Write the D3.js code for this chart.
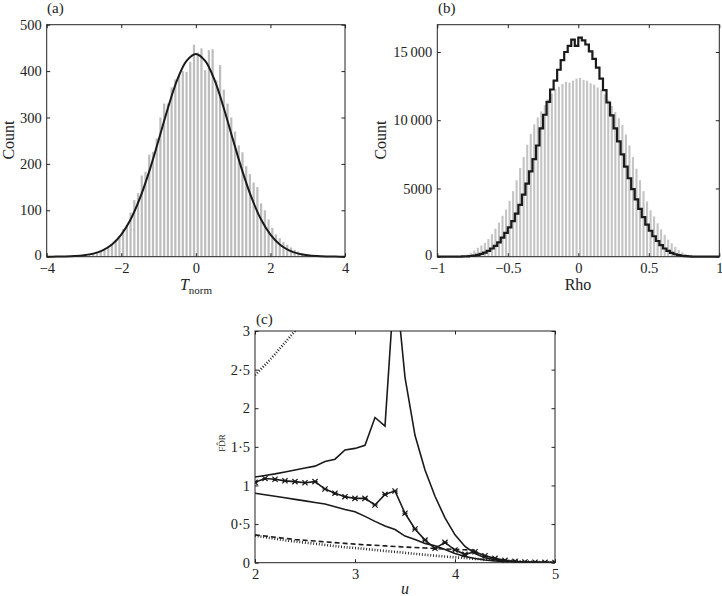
<!DOCTYPE html>
<html>
<head>
<meta charset="utf-8">
<script src="https://cdn.jsdelivr.net/npm/d3@7"></script>
<style>
  body { margin: 0; background: #fff; }
  svg text { font-family: "Liberation Serif", "Times New Roman", serif; fill: #222; }
</style>
</head>
<body>
<script>
// ---- panel (a): T_norm histogram + fitted curve
const aStart = -3.1, aWidth = 0.1;
const aCounts = [2,3,4,6,8,10,15,20,27,35, 42,60,68,95,122,137,175,183,220,226,
                 255,300,330,330,365,382,390,400,398,420, 457,
                 440,449,402,445,447,380,413,360,330,300, 270,240,225,195,178,160,150,115,100,80,
                 62,48,40,32,26,20,15,11,8,6, 4,2,1];
const aFitX = [-4,-3.75,-3.5,-3.25,-3,-2.75,-2.5,-2.25,-2,-1.75,-1.5,-1.25,-1,-0.75,-0.5,-0.25,0,
               0.25,0.5,0.75,1,1.25,1.5,1.75,2,2.25,2.5,2.75,3,3.25,3.5,3.75,4];
const aFitY = [0,0.2,0.5,1.3,3,6.6,13.7,26.4,47.6,80,126,184,251,320,381,422,437,
               422,381,320,251,184,126,80,47.6,26.4,13.7,6.6,3,1.3,0.5,0.2,0];
const aXTicks = [-4,-2,0,2,4];
const aYTicks = [0,100,200,300,400,500];

// ---- panel (b): Rho histogram (grey) + step outline (black)
const bGreyStart = -0.85, bBlackStart = -1, bWidth = 0.025;
const bGrey = [30,80,160,290,450,650,820,1000,1300,1650, 2050,2500,3000,3450,4100,4800,5600,6500,7300,8200,
               9000,9700,10200,10650,11100,11550,11950,12300,12450,12650, 12800,12750,12900,13050,
               13100,12950,12900,12700,12600,12400,12250,11900,11500,11050, 10600,10150,9650,8950,8150,
               7300,6450,5600,4800,4050, 3400,2950,2450,2000,1600,1250,980,720,500,330, 210,120,60,25];
const bBlack = [0,0,1,2,3,6,10,18,30,50, 80,130,200,300,430,600,800,1050,1400,1750,
                2150,2600,3150,3800,4550,5350,6250,7150,8150,9400, 10400,11350,12250,12900,13700,14400,15000,15450,15900,15450,
                16050,15850,15550,15050,14500,13850,13050,12200,11300,10350, 9400,8450,7500,6600,5750,4950,4200,3500,2900,2350,
                1900,1500,1150,850,600,420,280,180,110,65, 38,22,12,7,4,2,1,0,0,0];
const bXTicks = [-1,-0.5,0,0.5,1];
const bYTicks = [0,5000,10000,15000];

// ---- panel (c): FDR estimates against u
const cU = [2,2.1,2.2,2.3,2.4,2.5,2.6,2.7,2.8,2.9,3,3.1,3.2,3.3,3.4,3.5,3.6,3.7,3.8,3.9,
            4,4.1,4.2,4.3,4.4,4.5,4.6,4.7,4.8,4.9,5];
const cUpper = [1.11,1.13,1.15,1.175,1.2,1.225,1.25,1.31,1.34,1.46,1.48,1.52,1.88,1.77,3.73,2.4,1.65,1.2,0.86,0.58,
                0.36,0.21,0.12,0.065,0.04,0.022,0.012,0.007,0.004,0.002,0.001];
const cMarked = [1.04,1.09,1.08,1.06,1.05,1.035,1.05,0.954,0.9,0.855,0.833,0.833,0.747,0.885,0.928,0.64,0.436,0.293,0.186,0.263,
                 0.164,0.108,0.142,0.09,0.056,0.03,0.017,0.01,0.006,0.004,0.003];
const cMiddle = [0.9,0.88,0.86,0.84,0.82,0.8,0.78,0.76,0.725,0.69,0.66,0.6,0.535,0.475,0.43,0.345,0.3,0.25,0.22,0.17,
                 0.12,0.08,0.055,0.035,0.022,0.014,0.009,0.006,0.004,0.003,0.002];
const cDashed = [0.36,0.345,0.33,0.315,0.3,0.29,0.28,0.27,0.26,0.25,0.24,0.232,0.225,0.218,0.21,0.203,0.196,0.19,0.184,0.178,
                 0.172,0.167,0.162,null,null,null,null,null,null,null,null];
const cDotted = [0.35,0.33,0.31,0.29,0.275,0.26,0.245,0.23,0.215,0.2,0.19,0.178,0.165,0.152,0.14,0.128,0.115,0.102,0.09,0.08,
                 0.07,0.06,0.05,0.042,0.035,0.028,0.022,0.016,0.011,0.007,0.004];
const cTopDotU = [2,2.1,2.2,2.3,2.4,2.5];
const cTopDotV = [2.43,2.56,2.7,2.85,3.0,3.16];
const cXTicks = [2,3,4,5];
const cYTicks = [0,0.5,1,1.5,2,2.5,3];

const W = 722, H = 596, TICK = 3.5;
const svg = d3.select('body').append('svg').attr('width', W).attr('height', H);

function frame(g, x, y, xTicks, yTicks, fx, fy) {
  const [l, r] = x.range(), [b, t] = y.range();
  g.append('g').attr('transform', `translate(0,${b})`)
    .call(d3.axisBottom(x).tickValues(xTicks).tickSizeInner(-TICK).tickSizeOuter(0).tickPadding(6).tickFormat(fx));
  g.append('g').attr('transform', `translate(0,${t})`)
    .call(d3.axisTop(x).tickValues(xTicks).tickSizeInner(-TICK).tickSizeOuter(0).tickFormat(''));
  g.append('g').attr('transform', `translate(${l},0)`)
    .call(d3.axisLeft(y).tickValues(yTicks).tickSizeInner(-TICK).tickSizeOuter(0).tickPadding(5).tickFormat(fy));
  g.append('g').attr('transform', `translate(${r},0)`)
    .call(d3.axisRight(y).tickValues(yTicks).tickSizeInner(-TICK).tickSizeOuter(0).tickFormat(''));
  g.selectAll('.domain').remove();
  g.selectAll('.tick line').attr('stroke', '#222');
  g.selectAll('.tick text').attr('font-size', 14.5).attr('fill', '#222');
  g.append('rect').attr('x', l).attr('y', t).attr('width', r - l).attr('height', b - t)
    .attr('fill', 'none').attr('stroke', '#222').attr('stroke-width', 1);
}

const minus = v => String(v).replace('-', '\u2212');

// ---------- (a)
{
  const g = svg.append('g');
  const x = d3.scaleLinear().domain([-4, 4]).range([46.7, 345]);
  const y = d3.scaleLinear().domain([0, 500]).range([256.7, 24.7]);
  const bw = x(aWidth) - x(0);
  g.selectAll('rect.bar').data(aCounts).join('rect')
    .attr('x', (d, i) => x(aStart + i * aWidth) + bw * 0.2)
    .attr('width', bw * 0.6)
    .attr('y', d => y(d)).attr('height', d => y(0) - y(d))
    .attr('fill', '#bdbdbd');
  g.append('path').datum(aFitX.map((v, i) => [v, aFitY[i]]))
    .attr('d', d3.line().x(d => x(d[0])).y(d => y(d[1])).curve(d3.curveCatmullRom))
    .attr('fill', 'none').attr('stroke', '#1a1a1a').attr('stroke-width', 2);
  frame(g, x, y, aXTicks, aYTicks, minus, d => d);
  // nudge the corner "0" up a touch so it clears the "−4" below it
  g.selectAll('.tick text').filter(function (d) { return d === 0 && this.getAttribute('x') < 0; }).attr('dy', '0.2em');
  g.append('text').attr('x', 47).attr('y', 13).attr('font-size', 15).text('(a)');
  g.append('text').attr('transform', 'translate(13.5,140) rotate(-90)').attr('text-anchor', 'middle')
    .attr('font-size', 16).text('Count');
  const t = g.append('text').attr('x', 196).attr('y', 290).attr('text-anchor', 'middle').attr('font-size', 16);
  t.append('tspan').attr('font-style', 'italic').text('T');
  t.append('tspan').attr('font-size', 11).attr('dy', 4).text('norm');
}

// ---------- (b)
{
  const g = svg.append('g');
  const x = d3.scaleLinear().domain([-1, 1]).range([437.3, 719.3]);
  const y = d3.scaleLinear().domain([0, 17000]).range([256.7, 24.7]);
  const bw = x(bWidth) - x(0);
  g.selectAll('rect.bar').data(bGrey).join('rect')
    .attr('x', (d, i) => x(bGreyStart + i * bWidth) + bw * 0.2)
    .attr('width', bw * 0.6)
    .attr('y', d => y(d)).attr('height', d => y(0) - y(d))
    .attr('fill', '#c4c4c4');
  const steps = bBlack.map((v, i) => [bBlackStart + i * bWidth, v]);
  steps.push([bBlackStart + bBlack.length * bWidth, bBlack[bBlack.length - 1]]);
  g.append('path').datum(steps)
    .attr('d', d3.line().x(d => x(d[0])).y(d => y(d[1])).curve(d3.curveStepAfter))
    .attr('fill', 'none').attr('stroke', '#1a1a1a').attr('stroke-width', 2.2);
  const fy = d => d === 0 ? '0' : d >= 10000 ? d3.format(',')(d).replace(',', '\u2009') : String(d);
  frame(g, x, y, bXTicks, bYTicks, minus, fy);
  g.selectAll('.tick text').filter(function (d) { return d === 0 && this.getAttribute('x') < 0; }).attr('dy', '0.2em');
  g.append('text').attr('x', 438).attr('y', 13).attr('font-size', 15).text('(b)');
  g.append('text').attr('transform', 'translate(386,140) rotate(-90)').attr('text-anchor', 'middle')
    .attr('font-size', 16).text('Count');
  g.append('text').attr('x', 578).attr('y', 290).attr('text-anchor', 'middle').attr('font-size', 16).text('Rho');
}

// ---------- (c)
{
  const g = svg.append('g');
  const x = d3.scaleLinear().domain([2, 5]).range([255, 555]);
  const y = d3.scaleLinear().domain([0, 3]).range([562.7, 331]);
  svg.append('clipPath').attr('id', 'clipc').append('rect')
    .attr('x', 255).attr('y', 331).attr('width', 300).attr('height', 231.7);
  const plot = g.append('g').attr('clip-path', 'url(#clipc)');
  const line = d3.line().defined(d => d[1] != null).x(d => x(d[0])).y(d => y(d[1]));
  const pts = arr => cU.map((u, i) => [u, arr[i]]);
  const draw = (data, opts) => plot.append('path').datum(data).attr('d', line)
    .attr('fill', 'none').attr('stroke', '#1a1a1a').attr('stroke-width', opts.w || 1.6)
    .attr('stroke-dasharray', opts.dash || null);
  draw(pts(cDotted), { w: 2.6, dash: '0.9,1.9' });
  draw(pts(cDashed), { w: 1.6, dash: '5,3' });
  draw(cTopDotU.map((u, i) => [u, cTopDotV[i]]), { w: 2.6, dash: '0.9,1.9' });
  draw(pts(cMiddle), {});
  draw(pts(cUpper), {});
  draw(pts(cMarked), {});
  plot.selectAll('path.mk').data(pts(cMarked)).join('path')
    .attr('d', d => { const px = x(d[0]), py = y(d[1]), s = 2.6;
      return `M${px - s},${py - s}L${px + s},${py + s}M${px - s},${py + s}L${px + s},${py - s}M${px - s},${py}L${px + s},${py}`; })
    .attr('stroke', '#1a1a1a').attr('stroke-width', 1.2).attr('fill', 'none');
  const fy = d => String(d).replace('.', '\u00b7');
  frame(g, x, y, cXTicks, cYTicks, d => d, fy);
  g.append('text').attr('x', 256).attr('y', 324).attr('font-size', 15).text('(c)');
  g.append('text').attr('transform', 'translate(225,443) rotate(-90)').attr('text-anchor', 'middle')
    .attr('font-size', 9).text('FD\u0302R');
  g.append('text').attr('x', 405).attr('y', 594).attr('text-anchor', 'middle').attr('font-size', 16)
    .attr('font-style', 'italic').text('u');
}
</script>
</body>
</html>
